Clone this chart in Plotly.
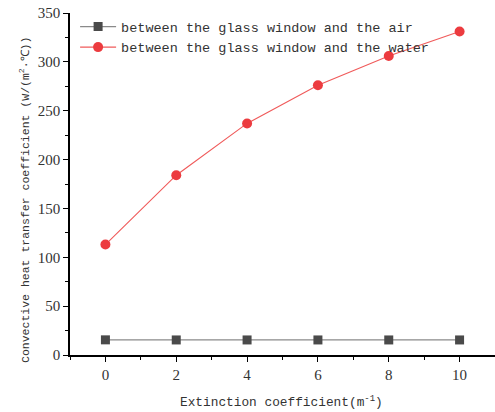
import plotly.graph_objects as go

x_vals = [0, 2, 4, 6, 8, 10]
air_vals = [15.5, 15.4, 15.4, 15.4, 15.4, 15.4]
water_vals = [113, 184, 237, 276, 306, 331]
series_names = ["between the glass window and the air", "between the glass window and the water"]
x_title = "Extinction coefficient(m<sup>-1</sup>)"
y_title = "Convective heat transfer coefficient (W/(m<sup>2</sup>·℃))"

mono = "Liberation Mono, Courier New, monospace"
serif = "Liberation Serif, Times New Roman, serif"

fig = go.Figure()
fig.add_trace(go.Scatter(
    x=x_vals, y=air_vals, name=series_names[0], mode="lines+markers",
    line=dict(color="#8a8a8a", width=1.2),
    marker=dict(symbol="square", size=9, color="#4a4a4a"),
))
fig.add_trace(go.Scatter(
    x=x_vals, y=water_vals, name=series_names[1], mode="lines+markers",
    line=dict(color="#f05a5a", width=1.1),
    marker=dict(symbol="circle", size=10, color="#ec3b3f"),
))

fig.update_layout(
    width=495, height=412,
    margin=dict(l=70, r=0, t=13, b=57),
    paper_bgcolor="white", plot_bgcolor="white",
    showlegend=True,
    legend=dict(x=0.012, y=1.005, xanchor="left", yanchor="top",
                bgcolor="rgba(0,0,0,0)", font=dict(family=mono, size=13.5, color="#333"),
                tracegroupgap=0, itemwidth=36),
    font=dict(family=serif, color="#333"),
    annotations=[
        dict(text=x_title, xref="paper", yref="paper", x=(281 - 70) / 425, y=-(402 - 355) / 342,
             xanchor="center", yanchor="middle", showarrow=False,
             font=dict(family=mono, size=12.8, color="#333")),
        dict(text=y_title, xref="paper", yref="paper", x=-(70 - 24) / 425, y=(355 - 200) / 342,
             xanchor="center", yanchor="middle", showarrow=False, textangle=-90,
             font=dict(family=mono, size=11.5, color="#333")),
    ],
)
fig.update_xaxes(
    range=[-1, 11], tickvals=[0, 2, 4, 6, 8, 10], ticks="outside", ticklen=5, tickwidth=1.2,
    tickcolor="black", showline=True, linecolor="black", linewidth=1.5, showgrid=False, zeroline=False,
    tickfont=dict(family=serif, size=15, color="#333"),
    minor=dict(dtick=1, ticks="outside", ticklen=3, tickcolor="black", tickwidth=1, showgrid=False),
)
fig.update_yaxes(
    range=[0, 350], dtick=50, ticks="outside", ticklen=5, tickwidth=1.2,
    tickcolor="black", showline=True, linecolor="black", linewidth=1.5, showgrid=False, zeroline=False,
    tickfont=dict(family=serif, size=15, color="#333"),
    minor=dict(dtick=25, ticks="outside", ticklen=3, tickcolor="black", tickwidth=1, showgrid=False),
)

fig.write_html("out.html")
